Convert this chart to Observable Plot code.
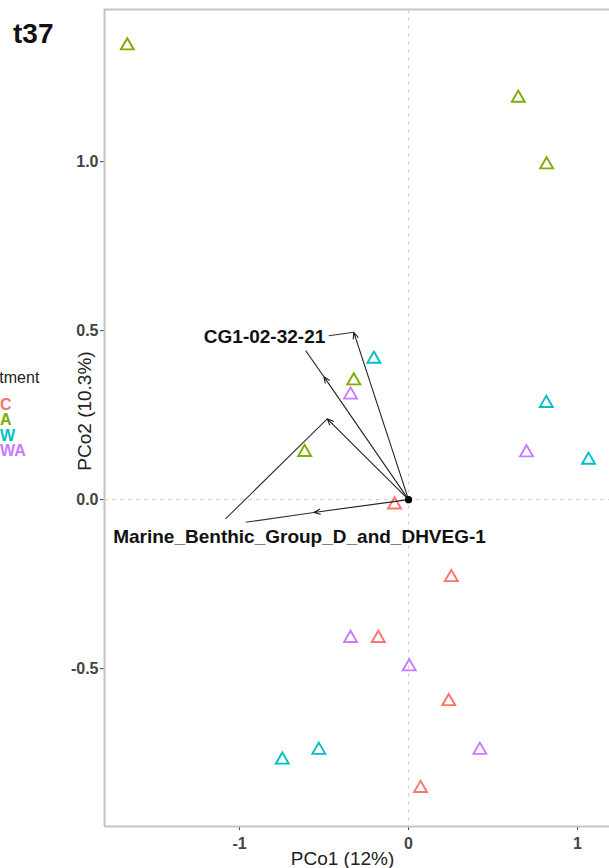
<!DOCTYPE html>
<html>
<head>
<meta charset="utf-8">
<script src="https://cdn.jsdelivr.net/npm/d3@7"></script>
<script src="https://cdn.jsdelivr.net/npm/@observablehq/plot@0.6"></script>
<style>
  body { margin: 0; background: #fff; font-family: "Liberation Sans", Arial, sans-serif; }
  #wrap { position: relative; width: 609px; height: 868px; overflow: hidden; }
  #wrap svg { position: absolute; left: 0; top: 0; }
  .title { position: absolute; left: 13px; top: 20px; font-size: 28px; font-weight: bold; color: #111; line-height: 1; }
  .legend { position: absolute; left: -33px; top: 370px; font-size: 16px; line-height: 15.5px; }
  .legend .lt { color: #222; margin-bottom: 11px; }
  .legend .li { padding-left: 33px; font-size: 16px; font-weight: 600; }
</style>
</head>
<body>
<div id="wrap"></div>
<script>
// ---- data ----
const treatments = ["C", "A", "W", "WA"];
const treatmentColors = ["#F8766D", "#7CAE00", "#00BFC4", "#C77CFF"];
const legendTitle = "Treatment";
const chartTitle = "t37";

const sampleTreatment = ["A","A","A","A","A", "W","W","W","W","W", "WA","WA","WA","WA","WA", "C","C","C","C","C"];
const samplePCo1 = [-1.664, 0.649, 0.817, -0.324, -0.615,  -0.205, 0.815, 1.065, -0.531, -0.747,  -0.343, 0.698, -0.343, 0.004, 0.422,  -0.083, 0.253, -0.179, 0.238, 0.071];
const samplePCo2 = [1.343, 1.188, 0.991, 0.352, 0.140,  0.416, 0.285, 0.117, -0.741, -0.770,  0.310, 0.139, -0.410, -0.494, -0.741,  -0.015, -0.230, -0.410, -0.597, -0.854];

// vector arrows (tips), from origin
const arrowTipX = [-0.324, -0.501, -0.481, -0.560];
const arrowTipY = [0.495, 0.364, 0.239, -0.038];
// label leader segment ends (label side)
const leaderX = [-0.472, -0.609, -1.083, -0.964];
const leaderY = [0.485, 0.441, -0.057, -0.067];

const vectorLabels = ["CG1-02-32-21", "Marine_Benthic_Group_D_and_DHVEG-1"];
const vectorLabelX = [-0.852, -0.645];
const vectorLabelY = [0.481, -0.110];

const xTicks = [-1, 0, 1];
const yTicks = [-0.5, 0, 0.5, 1.0];
const xDomain = [-1.799, 1.189];
const yDomain = [-0.967, 1.450];
const xTitle = "PCo1 (12%)";
const yTitle = "PCo2 (10.3%)";

// ---- build tables ----
const samples = sampleTreatment.map((t, i) => ({treatment: t, x: samplePCo1[i], y: samplePCo2[i]}));
const arrows = arrowTipX.map((x, i) => ({x2: x, y2: arrowTipY[i], lx: leaderX[i], ly: leaderY[i]}));
const labels = vectorLabels.map((t, i) => ({text: t, x: vectorLabelX[i], y: vectorLabelY[i]}));

const border = "#c4c4c4";
const chart = Plot.plot({
  width: 609,
  height: 868,
  marginLeft: 104,
  marginRight: 0,
  marginTop: 9,
  marginBottom: 42,
  style: {fontFamily: "'Liberation Sans', Arial, sans-serif", fontSize: "16px", fontWeight: "600", color: "#444", background: "transparent", overflow: "visible"},
  x: {domain: xDomain, ticks: xTicks, tickFormat: d => String(d), tickSize: 4, tickPadding: 7, label: null},
  y: {domain: yDomain, ticks: yTicks, tickFormat: d => d.toFixed(1), tickSize: 4, tickPadding: 2, label: null},
  color: {domain: treatments, range: treatmentColors},
  marks: [
    Plot.ruleX([0], {stroke: "#d6d6d6", strokeDasharray: "4,4", strokeWidth: 1.2}),
    Plot.ruleY([0], {stroke: "#d6d6d6", strokeDasharray: "4,4", strokeWidth: 1.2}),
    Plot.ruleX([xDomain[0]], {stroke: border, strokeWidth: 2}),
    Plot.ruleY(yDomain, {stroke: border, strokeWidth: 2}),
    Plot.dot(samples, {x: "x", y: "y", stroke: "treatment", symbol: "triangle", r: 4.8, strokeWidth: 1.9, fill: "none"}),
    Plot.link(arrows, {x1: "lx", y1: "ly", x2: "x2", y2: "y2", stroke: "#333", strokeWidth: 1.1}),
    Plot.arrow(arrows, {x1: () => 0, y1: () => 0, x2: "x2", y2: "y2", stroke: "#222", strokeWidth: 1.1, headLength: 9, headAngle: 45}),
    Plot.dot([{x: 0, y: 0}], {x: "x", y: "y", r: 3.6, fill: "#000"}),
    Plot.text(labels, {x: "x", y: "y", text: "text", fontWeight: "bold", fontSize: 19, fill: "#111"}),
    Plot.text([xTitle], {frameAnchor: "bottom-left", text: d => d, textAnchor: "middle", lineAnchor: "middle", dx: 238, dy: 32, fontSize: 19, fontWeight: "normal", fill: "#222"}),
    Plot.text([yTitle], {frameAnchor: "left", text: d => d, textAnchor: "middle", lineAnchor: "middle", rotate: -90, dx: -20, dy: -7, fontSize: 19, fontWeight: "normal", fill: "#222"})
  ]
});
const wrap = document.getElementById("wrap");
wrap.appendChild(chart);

const t = document.createElement("div");
t.className = "title";
t.textContent = chartTitle;
wrap.appendChild(t);

const lg = d3.select(wrap).append("div").attr("class", "legend");
lg.append("div").attr("class", "lt").text(legendTitle);
lg.selectAll("div.li").data(treatments).join("div")
  .attr("class", "li")
  .style("color", (d, i) => treatmentColors[i])
  .text(d => d);
</script>
</body>
</html>
